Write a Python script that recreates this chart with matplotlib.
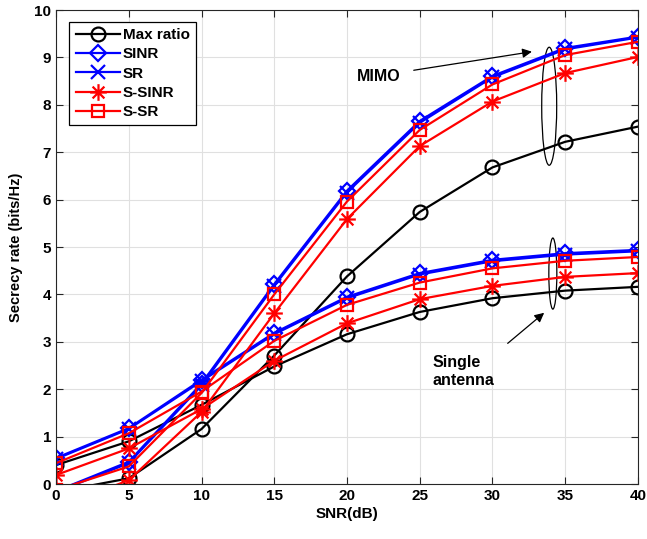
import matplotlib
matplotlib.use('Agg')
import matplotlib.pyplot as plt
from matplotlib.patches import Ellipse
from matplotlib.path import Path

plt.rcParams['font.family'] = ['Liberation Sans', 'DejaVu Sans']
plt.rcParams['font.weight'] = 'bold'

snr = [0, 5, 10, 15, 20, 25, 30, 35, 40]

# MIMO curves
mimo_max_ratio = [-0.17, 0.12, 1.16, 2.71, 4.38, 5.74, 6.68, 7.22, 7.54]
mimo_sinr = [-0.15, 0.47, 2.12, 4.22, 6.19, 7.66, 8.61, 9.20, 9.44]
mimo_sr = [-0.17, 0.44, 2.08, 4.18, 6.15, 7.62, 8.58, 9.17, 9.42]
mimo_ssinr = [-0.5, 0.08, 1.52, 3.60, 5.59, 7.13, 8.07, 8.67, 9.01]
mimo_ssr = [-0.13, 0.37, 1.92, 4.00, 5.96, 7.47, 8.43, 9.05, 9.33]

# single antenna curves
single_max_ratio = [0.40, 0.90, 1.67, 2.48, 3.16, 3.63, 3.92, 4.08, 4.16]
single_sinr = [0.55, 1.18, 2.20, 3.19, 3.95, 4.45, 4.73, 4.87, 4.94]
single_sr = [0.53, 1.16, 2.17, 3.16, 3.92, 4.42, 4.70, 4.84, 4.91]
single_ssinr = [0.19, 0.75, 1.58, 2.60, 3.39, 3.90, 4.18, 4.37, 4.45]
single_ssr = [0.44, 1.07, 1.95, 3.02, 3.78, 4.25, 4.55, 4.71, 4.79]

# asterisk made of strokes (plus and cross overlaid)
d = 0.7071
asterisk = Path([(0, -1), (0, 1), (-1, 0), (1, 0),
                 (-d, -d), (d, d), (-d, d), (d, -d)],
                [Path.MOVETO, Path.LINETO] * 4)

fig = plt.figure(figsize=(6.47, 5.39), dpi=100)
ax = fig.add_axes([0.0866, 0.102, 0.8994, 0.8794])

lw = 1.6
mew = 1.6

styles = [
    ('Max ratio', 'k', 'o', 10, mimo_max_ratio, single_max_ratio),
    ('SINR', 'b', 'D', 8, mimo_sinr, single_sinr),
    ('SR', 'b', 'x', 10, mimo_sr, single_sr),
    ('S-SINR', 'r', asterisk, 12, mimo_ssinr, single_ssinr),
    ('S-SR', 'r', 's', 8.5, mimo_ssr, single_ssr),
]

for name, col, mk, size, y_mimo, y_single in styles:
    ax.plot(snr, y_mimo, color=col, marker=mk, lw=lw, ms=size, mew=mew,
            mfc='none', label=name)
    ax.plot(snr, y_single, color=col, marker=mk, lw=lw, ms=size, mew=mew,
            mfc='none')

ax.set_xlim(0, 40)
ax.set_ylim(0, 10)
ax.set_xticks(range(0, 41, 5))
ax.set_yticks(range(0, 11))
ax.grid(True, color='#e0e0e0', lw=0.8)
ax.set_axisbelow(True)
ax.tick_params(direction='in', top=True, right=True, labelsize=11,
               length=5, width=0.8, color='#262626')
for s in ax.spines.values():
    s.set_linewidth(0.8)
    s.set_color('#262626')
for lbl in ax.get_xticklabels() + ax.get_yticklabels():
    lbl.set_fontweight('bold')

ax.set_xlabel('SNR(dB)', fontsize=11, fontweight='bold', labelpad=3)
ax.set_ylabel('Secrecy rate (bits/Hz)', fontsize=10.5, fontweight='bold',
              labelpad=8)

leg = ax.legend(loc='upper left', bbox_to_anchor=(0.023, 0.975),
                fontsize=11, handlelength=2.9, handletextpad=0.2,
                labelspacing=0.35, borderpad=0.4, borderaxespad=0,
                fancybox=False, framealpha=1, edgecolor='k')
leg.get_frame().set_linewidth(0.9)
for t in leg.get_texts():
    t.set_fontweight('bold')

# group annotations
ax.add_patch(Ellipse((33.9, 7.97), 1.03, 2.49, fill=False, ec='k', lw=0.9))
ax.add_patch(Ellipse((34.15, 4.44), 0.55, 1.5, fill=False, ec='k', lw=0.9))
ax.annotate('', xy=(32.9, 9.13), xytext=(24.4, 8.72),
            arrowprops=dict(arrowstyle='-|>', color='k', lw=0.9,
                            mutation_scale=14))
ax.text(22.2, 8.6, 'MIMO', fontsize=11.5, fontweight='bold',
        ha='center', va='center')
ax.annotate('', xy=(33.7, 3.65), xytext=(30.9, 2.93),
            arrowprops=dict(arrowstyle='-|>', color='k', lw=0.9,
                            mutation_scale=14))
ax.text(25.9, 2.37, 'Single\nantenna', fontsize=11.5, fontweight='bold',
        ha='left', va='center', linespacing=1.3)

fig.savefig('out.png', dpi=100)
